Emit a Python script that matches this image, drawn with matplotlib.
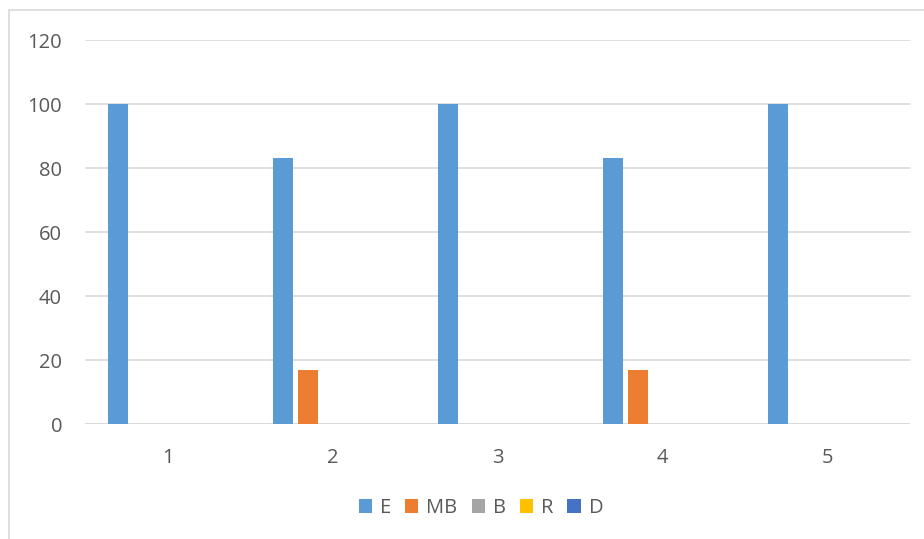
import numpy as np
import matplotlib.pyplot as plt
from matplotlib.patches import Rectangle

# data
categories = ['1', '2', '3', '4', '5']
series_names = ['E', 'MB', 'B', 'R', 'D']
E = [100, 83, 100, 83, 100]
MB = [0, 17, 0, 17, 0]
B = [0, 0, 0, 0, 0]
R = [0, 0, 0, 0, 0]
D = [0, 0, 0, 0, 0]
colors = ['#5B9BD5', '#ED7D31', '#A5A5A5', '#FFC000', '#4472C4']

plt.rcParams['font.family'] = ['Open Sans', 'DejaVu Sans']

W, H = 924, 539
fig = plt.figure(figsize=(W / 100, H / 100), dpi=100)
ax = fig.add_axes([85 / W, 1 - 424 / H, (910 - 85) / W, (424 - 40) / H])

# outer chart border
fig.patches.append(Rectangle((9 / W, -0.01), 1.0, 1 - 10 / H + 0.01, transform=fig.transFigure,
                             fill=False, edgecolor='#d9d9d9', linewidth=1.2))

x = np.arange(len(categories))
step = 25 / 165
width = 20 / 165
for i, (name, vals) in enumerate(zip(series_names, [E, MB, B, R, D])):
    ax.bar(x + (i - 2) * step, vals, width=width, color=colors[i], label=name, zorder=3)

ax.set_xlim(-0.5, 4.5)
ax.set_ylim(0, 120)
ax.set_yticks(range(0, 121, 20))
ax.set_xticks(x)
ax.set_xticklabels(categories)
ax.grid(axis='y', color='#d9d9d9', linewidth=1.2, zorder=0)
for s in ax.spines.values():
    s.set_visible(False)
ax.axhline(0, color='#d9d9d9', linewidth=1.2, zorder=2)
ax.tick_params(length=0, labelsize=14.5, labelcolor='#595959')
ax.tick_params(axis='y', pad=16.5)
ax.tick_params(axis='x', pad=17)

leg = fig.legend(loc='center', bbox_to_anchor=(481 / W, 1 - 508 / H), ncol=5, frameon=False,
                 fontsize=14.5, handlelength=0.65, handleheight=0.65, handletextpad=0.4,
                 columnspacing=0.7)
for t in leg.get_texts():
    t.set_color('#595959')

fig.savefig('out.png', dpi=100)
